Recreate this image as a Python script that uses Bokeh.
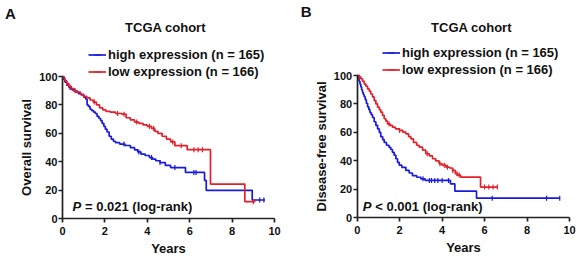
import numpy as np
from bokeh.plotting import figure
from bokeh.layouts import row
from bokeh.models import Range1d, Label, Legend, LegendItem
from bokeh.embed import file_html
from bokeh.resources import INLINE

# ---------------- data ----------------
os_high_t = [0, 0.05, 0.12, 0.2, 0.3, 0.4, 0.5, 0.62, 0.75, 0.88, 1.0, 1.1, 1.16, 1.22, 1.3, 1.38, 1.47, 1.55, 1.63, 1.72,
             1.8, 1.87, 1.95, 2.02, 2.1, 2.2, 2.3, 2.4, 2.5, 2.7, 2.95, 3.2, 3.4, 3.55, 3.7, 3.9, 4.1, 4.25, 4.4, 4.6,
             4.85, 5.1, 5.8, 6.7, 6.78, 8.95, 9.55]
os_high_s = [100, 98, 96, 94, 92.5, 91, 90, 89, 88, 87, 85.5, 84, 80, 79, 77, 76, 75, 74, 72, 70.5,
             69, 67, 65, 63, 61, 58, 56, 54.5, 53.5, 52.5, 51.5, 50, 48.5, 47, 45.5, 44.5, 43, 42, 40.8, 39.5,
             37.5, 36, 32.6, 27, 20, 13.2, 13.2]
os_high_cens = [0.1, 0.35, 2.9, 3.6, 4.2, 4.6, 5.3, 6.2, 6.3, 9.3, 9.5]

os_low_t = [0, 0.05, 0.12, 0.2, 0.3, 0.42, 0.55, 0.7, 0.85, 1.0, 1.15, 1.3, 1.45, 1.6, 1.75, 1.9, 2.05, 2.25, 2.5, 2.8,
            3.0, 3.2, 3.4, 3.6, 3.8, 4.0, 4.2, 4.35, 4.5, 4.7, 4.9, 5.1, 5.3, 5.88, 6.98, 8.6, 9.1]
os_low_s = [100, 98.5, 97, 95, 93, 91.5, 90, 89, 87.5, 86, 85, 83.5, 82, 80, 78, 76.5, 75.5, 75, 74, 73.5,
            71, 69.5, 68, 67, 66, 65, 63.5, 61.5, 60, 58, 56, 54, 51.4, 48.6, 24.4, 12, 12]
os_low_cens = [0.2, 0.6, 1.5, 2.6, 2.9, 3.5, 4.1, 4.3, 5.2, 5.6, 6.2, 6.4, 6.6, 9.0]

dfs_high_t = [0, 0.04, 0.09, 0.13, 0.17, 0.21, 0.25, 0.29, 0.33, 0.38, 0.43, 0.49, 0.55, 0.6, 0.66, 0.72, 0.8, 0.88,
              0.96, 1.04, 1.11, 1.2, 1.27, 1.38, 1.5, 1.58, 1.66, 1.74, 1.82, 1.9, 1.98, 2.1, 2.29, 2.45, 2.6, 2.8,
              3.0, 3.2, 4.39, 4.6, 5.62, 9.54]
dfs_high_s = [100, 98, 96, 94, 92, 90, 88, 86.5, 85, 83, 80.5, 78, 76, 74, 72.5, 70.5, 67.5, 65,
              62.5, 60, 57, 55, 53, 51, 49.5, 48, 46, 44, 41.5, 39, 37, 35.5, 33.3, 31.5, 29.7, 28.5,
              27.4, 26.3, 23.9, 18.7, 13.8, 13.8]
dfs_high_cens = [3.1, 3.4, 3.5, 3.65, 3.8, 4.0, 4.3, 6.36, 8.92, 9.54]

dfs_low_t = [0, 0.08, 0.17, 0.25, 0.33, 0.41, 0.49, 0.57, 0.64, 0.72, 0.8, 0.88, 0.96, 1.04, 1.11, 1.19, 1.27, 1.35,
             1.43, 1.55, 1.66, 1.8, 1.98, 2.15, 2.29, 2.42, 2.53, 2.65, 2.8, 2.92, 3.08, 3.23, 3.4, 3.55, 3.7, 3.86,
             4.0, 4.18, 4.35, 4.49, 4.62, 4.72, 4.87, 5.81, 6.6]
dfs_low_s = [100, 99, 97.7, 96, 94, 92.5, 90.6, 89, 87, 85, 82.4, 80, 77.8, 76, 74.2, 72, 69.6, 68,
             66, 65, 63.7, 62.5, 61.4, 60.2, 59, 57, 55.5, 53, 51, 49.6, 47.5, 45, 43.5, 41.5, 40, 38,
             37, 35.6, 35, 33.3, 31, 30, 28.6, 21.6, 21.6]
dfs_low_cens = [0.1, 1.5, 2.0, 3.3, 3.9, 4.1, 4.25, 4.5, 4.7, 4.8, 6.0, 6.2, 6.4, 6.6]

x_ticks = [0, 2, 4, 6, 8, 10]
y_ticks = [0, 20, 40, 60, 80, 100]
legend_labels = ["high expression (n = 165)", "low expression (n = 166)"]
BLUE = "#1a1adf"
RED = "#e3202a"
INK = "#111111"
FONT = "Liberation Sans"
W, H = 289, 259


def step_at(t, s, c):
    t = np.asarray(t)
    s = np.asarray(s)
    idx = np.searchsorted(t, np.asarray(c), side="right") - 1
    return s[idx]


def panel(letter, ylabel, high_t, high_s, high_c, low_t, low_s, low_c, ptext,
          px0, px10, py0, py100, letter_px, title_px, p_px, legend_px):
    # frame covers the whole figure; axes are pinned at data 0
    sx = (px10 - px0) / 10.0
    sy = (py0 - py100) / 100.0

    def dx(px):
        return (px - px0) / sx

    def dy(py):
        return (py0 - py) / sy

    p = figure(width=W, height=H, output_backend="svg", toolbar_location=None,
               x_range=Range1d(dx(0), dx(W)), y_range=Range1d(dy(H), dy(0)),
               min_border=0, min_border_left=0, min_border_right=0,
               min_border_top=0, min_border_bottom=0)
    p.outline_line_color = None
    p.xgrid.visible = False
    p.ygrid.visible = False
    p.background_fill_color = "white"
    p.border_fill_color = "white"

    for ax in (p.xaxis[0], p.yaxis[0]):
        ax.fixed_location = 0
        ax.axis_line_width = 1.7
        ax.axis_line_color = "#222222"
        ax.major_tick_line_width = 1.7
        ax.major_tick_line_color = "#222222"
        ax.major_tick_in = 0
        ax.major_tick_out = 4
        ax.minor_tick_line_color = None
        ax.major_label_text_font = FONT
        ax.major_label_text_font_style = "bold"
        ax.major_label_text_font_size = "11px"
        ax.major_label_text_color = INK
        ax.axis_label_text_font = FONT
        ax.axis_label_text_font_style = "bold"
        ax.axis_label_text_font_size = "13px"
        ax.axis_label_text_color = INK
    p.xaxis.ticker = x_ticks
    p.yaxis.ticker = y_ticks
    p.xaxis.bounds = (0, 10)
    p.yaxis.bounds = (0, 100)
    p.xaxis.axis_label = "Years"
    p.yaxis.axis_label = ylabel
    p.xaxis.major_label_standoff = 4
    p.yaxis.major_label_standoff = 1
    p.xaxis.axis_label_standoff = 3
    p.yaxis.axis_label_standoff = 2

    lh = p.step(x=high_t, y=high_s, mode="after", line_color=BLUE, line_width=1.7)
    sh = p.scatter(x=high_c, y=step_at(high_t, high_s, high_c), marker="dash", angle=np.pi / 2,
                   size=5, line_color=BLUE, line_width=1.2)
    ll = p.step(x=low_t, y=low_s, mode="after", line_color=RED, line_width=1.7)
    sl = p.scatter(x=low_c, y=step_at(low_t, low_s, low_c), marker="dash", angle=np.pi / 2,
                   size=5, line_color=RED, line_width=1.2)

    row_h = 17
    lx, ltop = legend_px
    legend = Legend(items=[LegendItem(label=legend_labels[0], renderers=[lh, sh]),
                           LegendItem(label=legend_labels[1], renderers=[ll, sl])],
                    location=(lx, H - ltop - 2 * row_h), orientation="vertical",
                    glyph_width=18, glyph_height=row_h, label_height=row_h, label_standoff=2,
                    padding=0, margin=0, spacing=0, border_line_color=None,
                    background_fill_alpha=0,
                    label_text_font=FONT, label_text_font_style="bold",
                    label_text_font_size="13px", label_text_color=INK)
    p.add_layout(legend)

    p.add_layout(Label(x=dx(title_px[0]), y=dy(title_px[1]), text="TCGA cohort", text_align="center",
                       text_baseline="middle", text_font=FONT, text_font_style="bold",
                       text_font_size="13px", text_color=INK))
    p.add_layout(Label(x=dx(letter_px[0]), y=dy(letter_px[1]), text=letter, text_align="center",
                       text_baseline="middle", text_font=FONT, text_font_style="bold",
                       text_font_size="15px", text_color=INK))
    p.add_layout(Label(x=dx(p_px[0]), y=dy(p_px[1]), text="P", text_align="left",
                       text_baseline="middle", text_font=FONT, text_font_style="bold italic",
                       text_font_size="13px", text_color=INK))
    p.add_layout(Label(x=dx(p_px[0]), y=dy(p_px[1]), x_offset=12.5, text=ptext, text_align="left",
                       text_baseline="middle", text_font=FONT, text_font_style="bold",
                       text_font_size="13px", text_color=INK))
    return p


pa = panel("A", "Overall survival", os_high_t, os_high_s, os_high_cens,
           os_low_t, os_low_s, os_low_cens, "= 0.021 (log-rank)",
           62.0, 274.0, 218.3, 76.0, (10, 13), (165, 27), (72, 206), (88, 45.5))
pb = panel("B", "Disease-free survival", dfs_high_t, dfs_high_s, dfs_high_cens,
           dfs_low_t, dfs_low_s, dfs_low_cens, "< 0.001 (log-rank)",
           67.7, 280.0, 217.3, 75.0, (16.7, 11), (182, 27), (73.3, 206), (93, 44))

layout = row(pa, pb, spacing=0)
open("out.html", "w").write(file_html(layout, INLINE))
